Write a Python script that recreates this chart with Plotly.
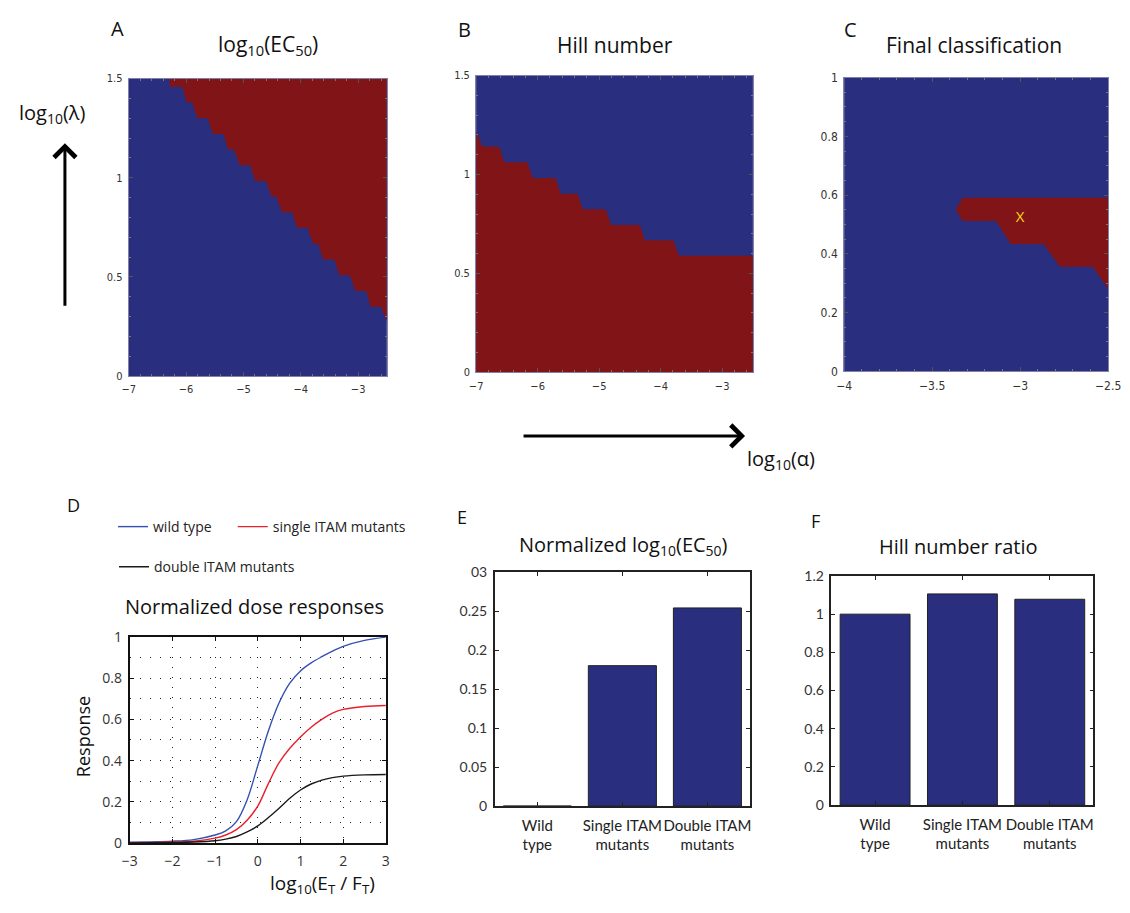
import plotly.graph_objects as go

W, H = 1130, 913
NAVY = '#2A2E7E'
DRED = '#811417'
FONT = 'Open Sans, Noto Sans, sans-serif'
CAL = 'Lato, Open Sans, sans-serif'
NARROW = 'Liberation Sans Narrow, DejaVu Sans Condensed, sans-serif'

# ---------------- Panel A: log10(EC50) region boundary (red = upper right) ----------------
a_x = [-6.294, -6.277, -6.066, -5.992, -5.895, -5.804, -5.622, -5.536, -5.348, -5.268,
       -5.166, -5.063, -4.881, -4.796, -4.608, -4.511, -4.425, -4.328, -4.152, -4.066,
       -3.884, -3.787, -3.696, -3.611, -3.417, -3.326, -3.144, -3.047, -2.859, -2.785,
       -2.603, -2.5, -2.5]
a_y = [1.5, 1.459, 1.459, 1.380, 1.380, 1.300, 1.300, 1.221, 1.221, 1.143,
       1.143, 1.063, 1.063, 0.984, 0.984, 0.905, 0.905, 0.826, 0.826, 0.7475,
       0.7475, 0.667, 0.667, 0.588, 0.588, 0.509, 0.509, 0.429, 0.429, 0.350,
       0.350, 0.276, 1.5]

# ---------------- Panel B: Hill number region boundary (red = lower left) ----------------
b_x = [-7.0, -6.904, -6.628, -6.543, -6.170, -6.080, -5.707, -5.628, -5.351, -5.266,
       -4.894, -4.803, -4.340, -4.255, -3.793, -3.702, -2.5, -2.5, -7.0]
b_y = [1.220, 1.141, 1.141, 1.062, 1.062, 0.982, 0.982, 0.903, 0.903, 0.824,
       0.824, 0.745, 0.745, 0.668, 0.668, 0.589, 0.589, 0.0, 0.0]

# ---------------- Panel C: final classification region ----------------
c_x = [-3.3665, -3.327, -2.5, -2.5, -2.588, -2.774, -2.867, -3.0534, -3.137, -3.327, -3.3665]
c_y = [0.552, 0.591, 0.591, 0.28, 0.3556, 0.3556, 0.4333, 0.4333, 0.512, 0.512, 0.552]
mark_x = [-3.0]
mark_y = [0.52]
mark_text = ['X']

# ---------------- Panel D: normalized dose responses ----------------
dose_x = [-3, -2.5, -2, -1.5, -1, -0.75, -0.5, -0.25, 0, 0.25, 0.5, 0.75, 1, 1.25, 1.5, 1.75, 2, 2.5, 3]
wild = [0.005, 0.007, 0.010, 0.018, 0.040, 0.060, 0.105, 0.210, 0.376, 0.545, 0.680, 0.775, 0.834,
        0.873, 0.903, 0.930, 0.953, 0.982, 0.998]
single = [0.003, 0.004, 0.006, 0.010, 0.025, 0.040, 0.066, 0.112, 0.180, 0.290, 0.390, 0.460, 0.515,
          0.562, 0.600, 0.630, 0.648, 0.662, 0.667]
double = [0.002, 0.003, 0.004, 0.006, 0.012, 0.020, 0.033, 0.055, 0.084, 0.125, 0.170, 0.218, 0.258,
          0.287, 0.306, 0.318, 0.325, 0.331, 0.333]

# ---------------- Panels E, F: bars ----------------
categories = ['Wild<br>type', 'Single ITAM<br>mutants', 'Double ITAM<br>mutants']
ec50_norm = [0.0, 0.180, 0.254]
hill_ratio = [1.0, 1.106, 1.078]
e_tickvals = [0, 0.05, 0.1, 0.15, 0.2, 0.25, 0.3]
e_ticktext = ['0', '0.05', '0.1', '0.15', '0.2', '0.25', '03']

fig = go.Figure()

# region traces
fig.add_trace(go.Scatter(x=a_x, y=a_y, fill='toself', fillcolor=DRED, mode='lines',
                         line=dict(width=0, color=DRED), xaxis='x', yaxis='y', showlegend=False, hoverinfo='skip'))
fig.add_trace(go.Scatter(x=b_x, y=b_y, fill='toself', fillcolor=DRED, mode='lines',
                         line=dict(width=0, color=DRED), xaxis='x2', yaxis='y2', showlegend=False, hoverinfo='skip'))
fig.add_trace(go.Scatter(x=c_x, y=c_y, fill='toself', fillcolor=DRED, mode='lines',
                         line=dict(width=0, color=DRED), xaxis='x3', yaxis='y3', showlegend=False, hoverinfo='skip'))
fig.add_trace(go.Scatter(x=mark_x, y=mark_y, text=mark_text, mode='text',
                         textfont=dict(color='#F5D820', size=15, family=FONT),
                         xaxis='x3', yaxis='y3', showlegend=False))

# dose responses
fig.add_trace(go.Scatter(x=dose_x, y=wild, mode='lines', name='wild type', line=dict(color='#3550B0', width=1.4, shape='spline'),
                         xaxis='x4', yaxis='y4', legend='legend'))
fig.add_trace(go.Scatter(x=dose_x, y=single, mode='lines', name='single ITAM mutants', line=dict(color='#E8202A', width=1.4, shape='spline'),
                         xaxis='x4', yaxis='y4', legend='legend2'))
fig.add_trace(go.Scatter(x=dose_x, y=double, mode='lines', name='double ITAM mutants', line=dict(color='#1A1A1A', width=1.4, shape='spline'),
                         xaxis='x4', yaxis='y4', legend='legend3'))

# bars
fig.add_trace(go.Bar(x=categories, y=ec50_norm, marker=dict(color=NAVY, line=dict(color='#222222', width=1)),
                     xaxis='x5', yaxis='y5', showlegend=False, width=0.8))
fig.add_trace(go.Bar(x=categories, y=hill_ratio, marker=dict(color=NAVY, line=dict(color='#222222', width=1)),
                     xaxis='x6', yaxis='y6', showlegend=False, width=0.8))


def dom(left, right, top, bottom):
    return [left / W, right / W], [1 - bottom / H, 1 - top / H]


def heat_axes(xd, yd, xr, yr, xt, yt, xtt, ytt, fs):
    ax = dict(domain=xd, range=xr, tickvals=xt, ticktext=xtt, ticks='inside', ticklen=4, tickcolor='#555',
              showline=True, linecolor='#8080A8', linewidth=1, mirror='ticks', showgrid=False, zeroline=False,
              tickfont=dict(family=NARROW, size=fs, color='#333'), ticklabelstandoff=3,
              ticklabeloverflow='allow',
              minor=dict(ticks='inside', ticklen=2, tickcolor='#777'))
    ay = dict(domain=yd, range=yr, tickvals=yt, ticktext=ytt, ticks='inside', ticklen=4, tickcolor='#555',
              showline=True, linecolor='#8080A8', linewidth=1, mirror='ticks', showgrid=False, zeroline=False,
              tickfont=dict(family=NARROW, size=fs, color='#333'), ticklabelstandoff=3,
              ticklabeloverflow='allow',
              minor=dict(ticks='inside', ticklen=2, tickcolor='#777'))
    return ax, ay


xdA, ydA = dom(123, 386, 70, 374)
xdB, ydB = dom(477, 759, 67, 370)
xdC, ydC = dom(852, 1121, 69, 369)
xdD, ydD = dom(124, 385, 640, 851)
xdE, ydE = dom(496, 756, 574, 813)
xdF, ydF = dom(839, 1106, 578, 812)

MX = ['\u22127', '\u22126', '\u22125', '\u22124', '\u22123']
xa, ya = heat_axes(xdA, ydA, [-7, -2.5], [0, 1.5], [-7, -6, -5, -4, -3], [0, 0.5, 1, 1.5],
                   MX, ['0', '0.5', '1', '1.5'], 11)
xb, yb = heat_axes(xdB, ydB, [-7, -2.5], [0, 1.5], [-7, -6, -5, -4, -3], [0, 0.5, 1, 1.5],
                   MX, ['0', '0.5', '1', '1.5'], 11)
xc, yc = heat_axes(xdC, ydC, [-4, -2.5], [0, 1], [-4, -3.5, -3, -2.5], [0, 0.2, 0.4, 0.6, 0.8, 1],
                   ['\u22124', '\u22123.5', '\u22123', '\u22122.5'], ['0', '0.2', '0.4', '0.6', '0.8', '1'], 12)

DOT = '1px,9px'
xd = dict(domain=xdD, range=[-3, 3], tickvals=[-3, -2, -1, 0, 1, 2, 3],
          ticktext=['\u22123', '\u22122', '\u22121', '0', '1', '2', '3'],
          ticks='inside', ticklen=4, tickcolor='#111', showline=True, linecolor='#111', linewidth=2,
          mirror='ticks', showgrid=True, gridcolor='#222', gridwidth=1, griddash=DOT, zeroline=False,
          tickfont=dict(family=FONT, size=14, color='#333'), ticklabeloverflow='allow',
          ticklabelstandoff=4)
yd = dict(domain=ydD, range=[0, 1], tickvals=[0, 0.2, 0.4, 0.6, 0.8, 1],
          ticktext=['0', '0.2', '0.4', '0.6', '0.8', '1'],
          ticks='inside', ticklen=4, tickcolor='#111', showline=True, linecolor='#111', linewidth=2,
          mirror='ticks', showgrid=True, gridcolor='#222', gridwidth=1, griddash=DOT, zeroline=False,
          tickfont=dict(family=FONT, size=14, color='#333'), ticklabeloverflow='allow',
          ticklabelstandoff=3,
          minor=dict(dtick=0.1, showgrid=True, gridcolor='#222', gridwidth=1, griddash=DOT))

bar_x = lambda d: dict(domain=d, range=[-0.5, 2.5], ticks='inside', ticklen=4, tickcolor='#222',
                       showline=True, linecolor='#222', linewidth=1.5, mirror='ticks', showgrid=False,
                       tickfont=dict(family=CAL, size=15, color='#222'), type='category',
                       tickangle=0, ticklabelstandoff=5, ticklabeloverflow='allow')
xe = bar_x(xdE)
ye = dict(domain=ydE, range=[0, 0.3], tickvals=e_tickvals, ticktext=e_ticktext, ticks='inside', ticklen=4,
          tickcolor='#222', showline=True, linecolor='#222', linewidth=1.5, mirror='ticks', showgrid=False,
          zeroline=False, tickfont=dict(family=CAL, size=14, color='#333'), ticklabeloverflow='allow',
          ticklabelstandoff=3)
xf = bar_x(xdF)
yf = dict(domain=ydF, range=[0, 1.2], tickvals=[0, 0.2, 0.4, 0.6, 0.8, 1, 1.2],
          ticktext=['0', '0.2', '0.4', '0.6', '0.8', '1', '1.2'], ticks='inside', ticklen=4,
          tickcolor='#222', showline=True, linecolor='#222', linewidth=1.5, mirror='ticks', showgrid=False,
          zeroline=False, tickfont=dict(family=CAL, size=14, color='#333'), ticklabeloverflow='allow',
          ticklabelstandoff=3)

shapes = []
for xr, yr in (('x', 'y'), ('x2', 'y2'), ('x3', 'y3')):
    shapes.append(dict(type='rect', xref=xr + ' domain', yref=yr + ' domain', x0=0, x1=1, y0=0, y1=1,
                       fillcolor=NAVY, line=dict(width=0), layer='below'))


def txt(x, y, s, size, **kw):
    d = dict(x=x / W, y=1 - y / H, xref='paper', yref='paper', text=s, showarrow=False,
             font=dict(family=FONT, size=size, color='#111'), xanchor='center', yanchor='middle')
    d.update(kw)
    return d


ann = [
    txt(112, 19, 'A', 20), txt(465, 20, 'B', 20), txt(858, 20, 'C', 20),
    txt(265, 36, 'log<sub>10</sub>(EC<sub>50</sub>)', 21),
    txt(618, 36, 'Hill number', 21),
    txt(984, 36, 'Final classification', 21),
    txt(45, 106, 'log<sub>10</sub>(λ)', 20),
    txt(788, 459, 'log<sub>10</sub>(α)', 20),
    txt(67, 506, 'D', 18),
    txt(251, 609, 'Normalized dose responses', 20),
    txt(76, 742, 'Response', 18, textangle=-90),
    txt(320, 893, 'log<sub>10</sub>(E<sub>T</sub> / F<sub>T</sub>)', 19),
    txt(463, 518, 'E', 18),
    txt(627, 547, 'Normalized log<sub>10</sub>(EC<sub>50</sub>)', 20),
    txt(823, 522, 'F', 18),
    txt(968, 548, 'Hill number ratio', 20),
    # arrows
    dict(x=58 / W, y=1 - 136 / H, xref='paper', yref='paper', ax=0, ay=164, text='', showarrow=True,
         arrowhead=4, arrowsize=1.4, arrowwidth=3, arrowcolor='#000', standoff=0),
    dict(x=751 / W, y=1 - 435 / H, xref='paper', yref='paper', ax=-223, ay=0, text='', showarrow=True,
         arrowhead=4, arrowsize=1.4, arrowwidth=3, arrowcolor='#000', standoff=0),
]

leg_common = dict(orientation='h', bgcolor='rgba(0,0,0,0)', borderwidth=0, xanchor='left', yanchor='middle',
                  font=dict(family=FONT, size=14, color='#222'), itemwidth=30)

fig.update_layout(
    width=W, height=H, margin=dict(l=0, r=0, t=0, b=0),
    paper_bgcolor='white', plot_bgcolor='white',
    xaxis=dict(xa, anchor='y'), yaxis=dict(ya, anchor='x'),
    xaxis2=dict(xb, anchor='y2'), yaxis2=dict(yb, anchor='x2'),
    xaxis3=dict(xc, anchor='y3'), yaxis3=dict(yc, anchor='x3'),
    xaxis4=dict(xd, anchor='y4'), yaxis4=dict(yd, anchor='x4'),
    xaxis5=dict(xe, anchor='y5'), yaxis5=dict(ye, anchor='x5'),
    xaxis6=dict(xf, anchor='y6'), yaxis6=dict(yf, anchor='x6'),
    shapes=shapes, annotations=ann,
    legend=dict(leg_common, x=107 / W, y=1 - 528 / H),
    legend2=dict(leg_common, x=229 / W, y=1 - 528 / H),
    legend3=dict(leg_common, x=108 / W, y=1 - 569 / H),
    showlegend=True,
)

fig.write_html('out.html')
